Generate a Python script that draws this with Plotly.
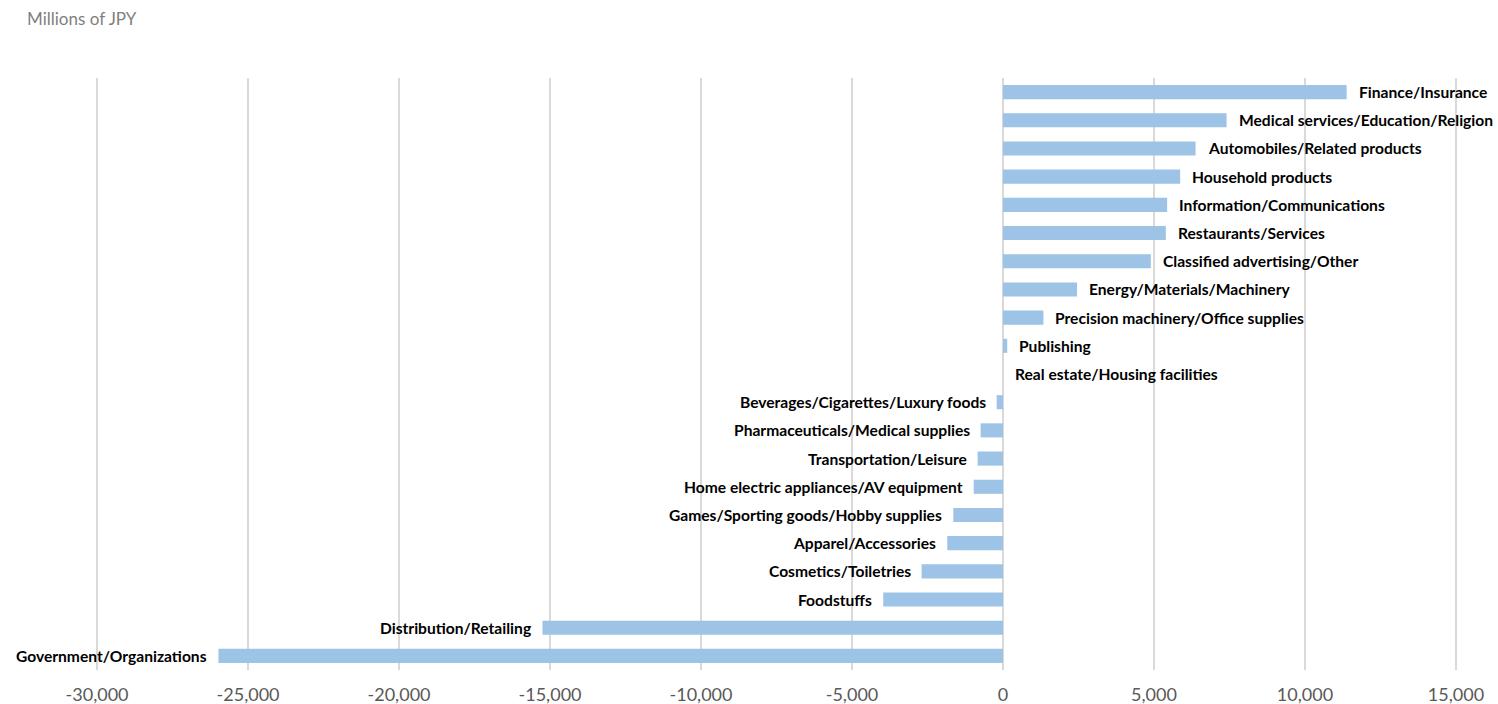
import plotly.graph_objects as go

categories = [
    "Finance/Insurance",
    "Medical services/Education/Religion",
    "Automobiles/Related products",
    "Household products",
    "Information/Communications",
    "Restaurants/Services",
    "Classified advertising/Other",
    "Energy/Materials/Machinery",
    "Precision machinery/Office supplies",
    "Publishing",
    "Real estate/Housing facilities",
    "Beverages/Cigarettes/Luxury foods",
    "Pharmaceuticals/Medical supplies",
    "Transportation/Leisure",
    "Home electric appliances/AV equipment",
    "Games/Sporting goods/Hobby supplies",
    "Apparel/Accessories",
    "Cosmetics/Toiletries",
    "Foodstuffs",
    "Distribution/Retailing",
    "Government/Organizations",
]
values = [11380, 7405, 6377, 5867, 5436, 5393, 4896, 2453, 1339, 140, 0,
          -210, -740, -840, -970, -1645, -1845, -2695, -3965, -15250, -25980]

tick_vals = [-30000, -25000, -20000, -15000, -10000, -5000, 0, 5000, 10000, 15000]
tick_text = ["-30,000", "-25,000", "-20,000", "-15,000", "-10,000", "-5,000",
             "0", "5,000", "10,000", "15,000"]

FONT = "Lato, Open Sans, sans-serif"

fig = go.Figure(go.Bar(
    x=values, y=categories, orientation="h",
    marker=dict(color="#9dc3e6", line=dict(width=0)),
    hoverinfo="x+y",
))

for c, v in zip(categories, values):
    pos = v >= 0
    fig.add_annotation(
        x=v, y=c, text="<b>" + c + "</b>", showarrow=False,
        xanchor="left" if pos else "right", xshift=10 if pos else -9,
        font=dict(family=FONT, size=15.6, color="#000000"),
    )

# axis range padded so the outer gridlines at -30,000 and 15,000 are drawn
L, R, T, B = 88, 33, 78, 34
W, H = 1498, 704
pw, ph = W - L - R, H - T - B
fig.add_annotation(
    xref="paper", yref="paper",
    x=(25 - L) / pw, y=(H - B - 18) / ph,
    text="Millions of JPY", showarrow=False, xanchor="left", yanchor="middle",
    font=dict(family=FONT, size=17, color="#7f7f7f"),
)

fig.update_layout(
    width=W, height=H,
    margin=dict(l=L, r=R, t=T, b=B, autoexpand=False),
    plot_bgcolor="white", paper_bgcolor="white",
    bargap=0.5, showlegend=False,
    xaxis=dict(
        range=[-30300, 15300], tickvals=tick_vals, ticktext=tick_text,
        showgrid=True, gridcolor="#d9d9d9", gridwidth=1.5,
        zeroline=False, showline=False, automargin=False,
        ticks="", ticklabelstandoff=12,
        tickfont=dict(family=FONT, size=18, color="#595959"),
    ),
    yaxis=dict(
        categoryorder="array", categoryarray=categories, autorange="reversed",
        showticklabels=False, showgrid=False, zeroline=False, showline=False,
        automargin=False,
    ),
)

fig.write_html("out.html")
